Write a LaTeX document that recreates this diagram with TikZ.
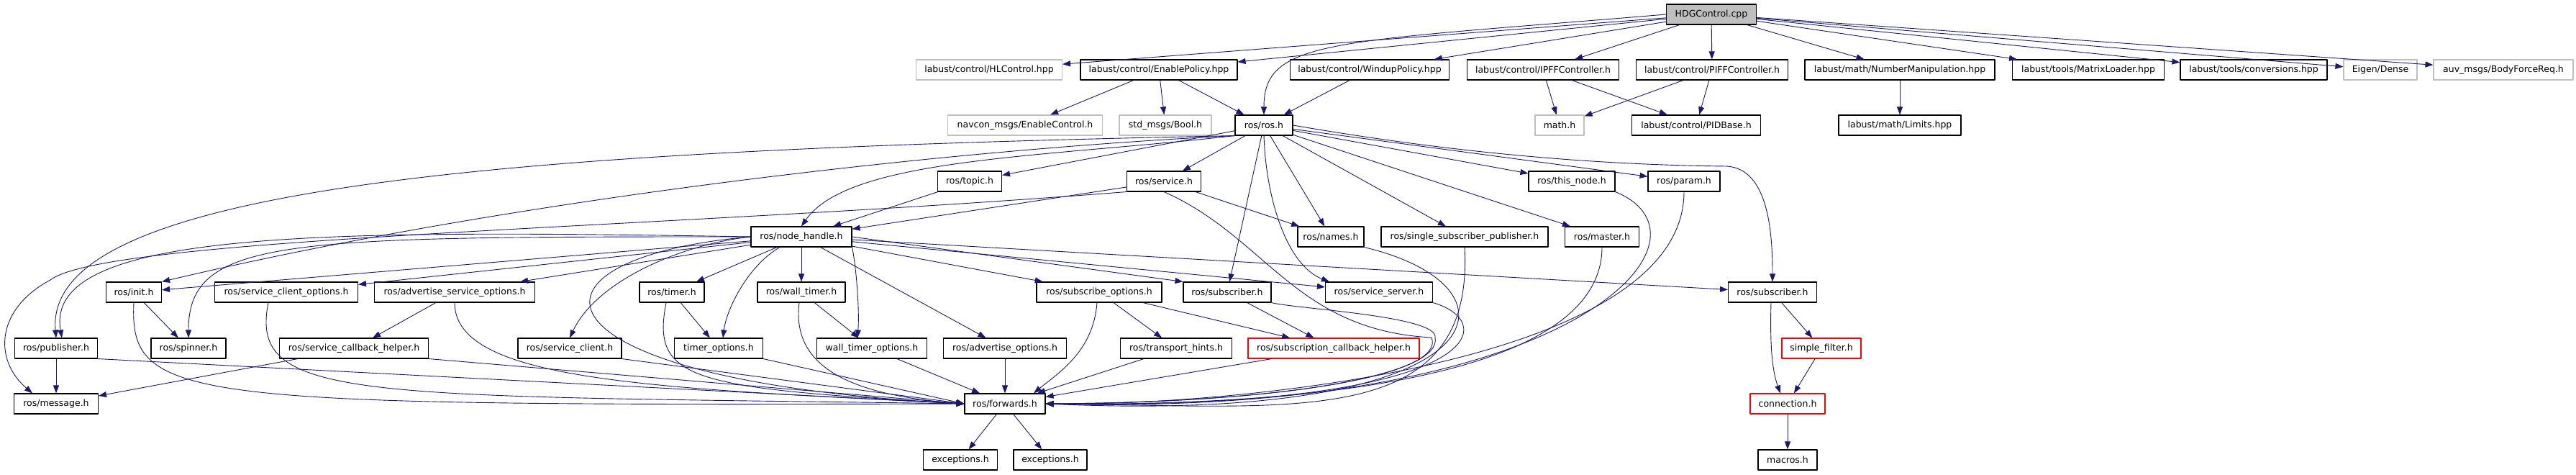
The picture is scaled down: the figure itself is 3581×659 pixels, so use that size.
\documentclass[tikz,border=0pt]{standalone}
\usepackage{fontspec}
\setmainfont{DejaVu Sans}
\usetikzlibrary{arrows.meta}
\definecolor{edgeblue}{HTML}{191970}
\definecolor{boxgray}{HTML}{BFBFBF}
\definecolor{boxred}{HTML}{FF0000}
\begin{document}
\begin{tikzpicture}[x=1pt,y=1pt,line join=round,>={Triangle[length=11pt,width=8pt]}]
\tikzset{file/.style={draw=black,line width=1.1pt,fill=white,minimum height=28pt,inner sep=0pt,font=\fontsize{12.5}{15}\selectfont},
  ext/.style={file,draw=boxgray},
  trunc/.style={file,draw=boxred},
  root/.style={file,fill=boxgray},
  inc/.style={->,draw=edgeblue,line width=0.9pt}}
\useasboundingbox (0,0) rectangle (3581,659);

\node[root,minimum width=125pt] (hdg) at (2379,639) {HDGControl.cpp};

\node[ext,minimum width=203pt] (hlctrl) at (1375,562) {labust/control/HLControl.hpp};
\node[file,minimum width=218pt] (enable) at (1611,562) {labust/control/EnablePolicy.hpp};
\node[file,minimum width=221pt] (windup) at (1904,562) {labust/control/WindupPolicy.hpp};
\node[file,minimum width=211pt] (ipff) at (2145,562) {labust/control/IPFFController.h};
\node[file,minimum width=211pt] (piff) at (2380,562) {labust/control/PIFFController.h};
\node[file,minimum width=264pt] (numman) at (2641,562) {labust/math/NumberManipulation.hpp};
\node[file,minimum width=211pt] (matload) at (2903,562) {labust/tools/MatrixLoader.hpp};
\node[file,minimum width=204pt] (conv) at (3133,562) {labust/tools/conversions.hpp};
\node[ext,minimum width=102pt] (eigen) at (3309,562) {Eigen/Dense};
\node[ext,minimum width=194pt] (auvmsg) at (3480,562) {auv\_msgs/BodyForceReq.h};

\node[ext,minimum width=215pt] (navcon) at (1425,485) {navcon\_msgs/EnableControl.h};
\node[ext,minimum width=128pt] (boolmsg) at (1620,485) {std\_msgs/Bool.h};
\node[file,minimum width=80pt] (ros) at (1757,485) {ros/ros.h};
\node[ext,minimum width=68pt] (mathh) at (2168,485) {math.h};
\node[file,minimum width=179pt] (pidbase) at (2358,485) {labust/control/PIDBase.h};
\node[file,minimum width=170pt] (limits) at (2641,485) {labust/math/Limits.hpp};

\node[file,minimum width=89pt] (topic) at (1348,407) {ros/topic.h};
\node[file,minimum width=103pt] (service) at (1618,407) {ros/service.h};
\node[file,minimum width=120pt] (thisnode) at (2185,407) {ros/this\_node.h};
\node[file,minimum width=100pt] (param) at (2341,407) {ros/param.h};

\node[file,minimum width=140pt] (nodeh) at (1114,330) {ros/node\_handle.h};
\node[file,minimum width=92pt] (names) at (1850,330) {ros/names.h};
\node[file,minimum width=232pt] (ssp) at (2036,330) {ros/single\_subscriber\_publisher.h};
\node[file,minimum width=103pt] (master) at (2227,330) {ros/master.h};

\node[file,minimum width=77pt] (init) at (186,253) {ros/init.h};
\node[file,minimum width=199pt] (sco) at (398,253) {ros/service\_client\_options.h};
\node[file,minimum width=223pt] (aso) at (632,253) {ros/advertise\_service\_options.h};
\node[file,minimum width=90pt] (timer) at (934,253) {ros/timer.h};
\node[file,minimum width=122pt] (wtimer) at (1114,253) {ros/wall\_timer.h};
\node[file,minimum width=174pt] (subopt) at (1528,253) {ros/subscribe\_options.h};
\node[file,minimum width=122pt] (sub) at (1706,253) {ros/subscriber.h};
\node[file,minimum width=149pt] (srvsrv) at (1917,253) {ros/service\_server.h};
\node[file,minimum width=123pt] (mfsub) at (2464,253) {ros/subscriber.h};

\node[file,minimum width=115pt] (pub) at (78,175) {ros/publisher.h};
\node[file,minimum width=104pt] (spinner) at (262,175) {ros/spinner.h};
\node[file,minimum width=207pt] (sch) at (492,175) {ros/service\_callback\_helper.h};
\node[file,minimum width=144pt] (srvcli) at (792,175) {ros/service\_client.h};
\node[file,minimum width=123pt] (timeropt) at (999,175) {timer\_options.h};
\node[file,minimum width=153pt] (wtimeropt) at (1212,175) {wall\_timer\_options.h};
\node[file,minimum width=171pt] (advopt) at (1397,175) {ros/advertise\_options.h};
\node[file,minimum width=155pt] (thints) at (1635,175) {ros/transport\_hints.h};
\node[trunc,minimum width=238pt] (subcb) at (1854,175) {ros/subscription\_callback\_helper.h};
\node[trunc,minimum width=110pt] (sfilter) at (2532,175) {simple\_filter.h};

\node[file,minimum width=117pt] (msg) at (78,98) {ros/message.h};
\node[file,minimum width=112pt] (fwd) at (1397,98) {ros/forwards.h};
\node[trunc,minimum width=104pt] (conn) at (2485,98) {connection.h};

\node[file,minimum width=103pt] (exc) at (1335,20) {exceptions.h};
\node[file,minimum width=102pt] (excb) at (1460,20) {exceptions.h};
\node[file,minimum width=82pt] (macros) at (2485,20) {macros.h};

\foreach \t in {hlctrl,enable,windup,ipff,piff,numman,matload,conv,eigen,auvmsg}
  \draw[inc] (hdg) -- (\t);
\draw[inc] (hdg.west) .. controls (1850,600) and (1757,605) .. (ros.north);
\foreach \t in {navcon,boolmsg,ros}
  \draw[inc] (enable) -- (\t);
\draw[inc] (windup) -- (ros);
\foreach \s in {ipff,piff}
  \foreach \t in {mathh,pidbase}
    \draw[inc] (\s) -- (\t);
\draw[inc] (numman) -- (limits);

\foreach \t in {topic,service,names,ssp,master,thisnode,param,sub}
  \draw[inc] (ros) -- (\t);
\draw[inc] (ros.south west) .. controls (1450,440) and (1180,440) .. (nodeh.north);
\draw[inc] (ros.south west) .. controls (1300,450) and (700,380) .. (init.north east);
\draw[inc] (ros.south west) .. controls (700,450) and (60,400) .. (pub.north);
\draw[inc] (ros.south) .. controls (1760,380) and (1790,290) .. ([xshift=6pt]srvsrv.north west);
\draw[inc] (ros.east) .. controls (2000,450) and (2200,430) .. (2400,428) .. controls (2460,425) and (2464,330) .. (mfsub.north);

\draw[inc] (topic) -- (nodeh);
\draw[inc] (service) -- (nodeh);
\draw[inc] (service) -- (names);
\draw[inc] (service.south west) .. controls (900,340) and (150,330) .. (70,270) .. controls (-5,230) and (-10,160) .. ([xshift=26pt]msg.north west);
\draw[inc] (service.south) .. controls (1760,330) and (1800,200) .. (1990,190) .. controls (2010,140) and (1800,100) .. (fwd.east);

\foreach \t in {init,sco,aso,timer,wtimer,advopt,subopt,srvsrv,mfsub}
  \draw[inc] (nodeh) -- (\t);
\draw[inc] (nodeh.east) -- (sub.north west);
\draw[inc] (nodeh.west) .. controls (450,340) and (60,340) .. ([xshift=8pt]pub.north);
\draw[inc] (nodeh.west) .. controls (400,330) and (262,330) .. (spinner.north);
\draw[inc] (nodeh.west) .. controls (950,320) and (830,270) .. (srvcli.north);
\draw[inc] ([xshift=-30pt]nodeh.south) .. controls (1040,290) and (1010,230) .. ([xshift=6pt]timeropt.north);
\draw[inc] (nodeh.south east) .. controls (1190,290) and (1195,230) .. ([xshift=-20pt]wtimeropt.north);
\draw[inc] (nodeh.west) .. controls (700,300) and (720,130) .. (fwd.west);

\draw[inc] (init) -- (spinner);
\draw[inc] (init.south) .. controls (180,100) and (250,95) .. (fwd.west);
\draw[inc] (pub) -- (msg);
\draw[inc] (pub.south east) -- (fwd.west);
\draw[inc] ([xshift=-25pt]sco.south) .. controls (345,100) and (500,110) .. (fwd.west);
\draw[inc] (aso) -- (sch);
\draw[inc] (aso.south) .. controls (632,130) and (900,120) .. (fwd.west);
\draw[inc] (sch) -- (msg);
\draw[inc] (sch.south east) -- (fwd.west);
\draw[inc] (srvcli.south east) -- (fwd.west);
\draw[inc] (timer) -- (timeropt);
\draw[inc] ([xshift=-8pt]timer.south) .. controls (905,130) and (960,120) .. (fwd.west);
\draw[inc] (timeropt.south east) -- (fwd.west);
\draw[inc] (wtimer) -- (wtimeropt);
\draw[inc] ([xshift=-3pt]wtimer.south) .. controls (1100,150) and (1180,110) .. (fwd.west);
\draw[inc] (wtimeropt) -- (fwd);
\draw[inc] (advopt) -- (fwd);
\draw[inc] ([xshift=-3pt]subopt.south) .. controls (1520,170) and (1470,140) .. ([xshift=40pt]fwd.north);
\foreach \t in {thints,subcb}
  \draw[inc] (subopt) -- (\t);
\draw[inc] (thints) -- (fwd);
\draw[inc] (subcb) -- (fwd);
\draw[inc] (sub) -- (subcb);
\draw[inc] (sub.south east) .. controls (1800,230) and (2000,220) .. (1995,190) .. controls (2005,140) and (1800,100) .. (fwd.east);
\draw[inc] (srvsrv.south east) .. controls (2090,210) and (2060,90) .. (fwd.east);
\draw[inc] (names.south east) .. controls (2130,260) and (2090,70) .. (fwd.east);
\draw[inc] (ssp.south) .. controls (2050,60) and (1800,95) .. (fwd.east);
\draw[inc] (master.south) .. controls (2227,120) and (1750,95) .. (fwd.east);
\draw[inc] (thisnode.south east) .. controls (2400,330) and (2200,80) .. (fwd.east);
\draw[inc] (param.south) .. controls (2341,150) and (1700,95) .. (fwd.east);

\draw[inc] (fwd) -- (exc);
\draw[inc] (fwd) -- (excb);
\draw[inc] (mfsub) -- (sfilter);
\draw[inc] ([xshift=-2pt]mfsub.south) .. controls (2460,170) and (2465,140) .. ([xshift=-10pt]conn.north);
\draw[inc] (sfilter) -- (conn);
\draw[inc] (conn) -- (macros);
\end{tikzpicture}
\end{document}
